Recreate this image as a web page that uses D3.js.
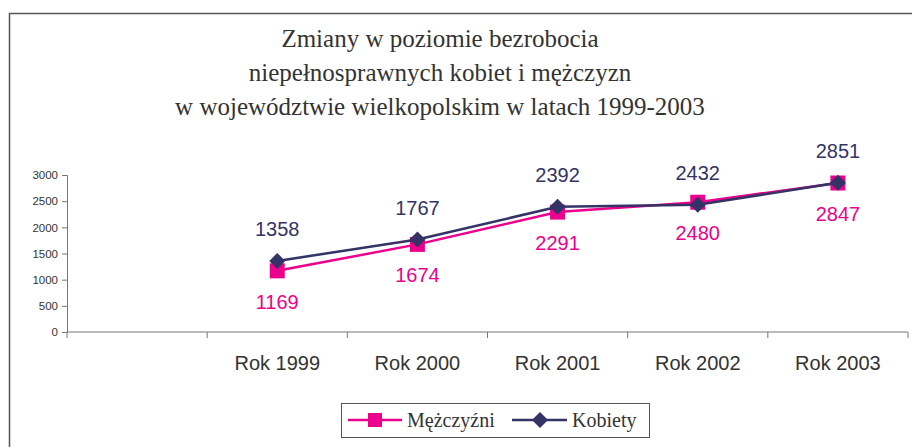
<!DOCTYPE html>
<html lang="pl">
<head>
<meta charset="utf-8">
<title>Bezrobocie niepełnosprawnych</title>
<script src="https://d3js.org/d3.v7.min.js"></script>
<style>
  body { margin: 0; background: #fff; }
</style>
</head>
<body>
<div id="chart"></div>
<script>

// data
var categories = ["", "Rok 1999", "Rok 2000", "Rok 2001", "Rok 2002", "Rok 2003"];
var years = ["Rok 1999", "Rok 2000", "Rok 2001", "Rok 2002", "Rok 2003"];
var mezczyzni = [1169, 1674, 2291, 2480, 2847];
var kobiety = [1358, 1767, 2392, 2432, 2851];
var yTicks = [0, 500, 1000, 1500, 2000, 2500, 3000];
var titleLines = ["Zmiany w poziomie bezrobocia",
                  "niepełnosprawnych kobiet i mężczyzn",
                  "w województwie wielkopolskim w latach 1999-2003"];

var W = 912, H = 447;
var pink = "#ec008c", navy = "#333366";

var svg = d3.select("#chart").append("svg")
    .attr("width", W)
    .attr("height", H);

// outer frame (runs off the right and bottom edge)
svg.append("rect")
    .attr("x", 9.5).attr("y", 13.5)
    .attr("width", W + 20).attr("height", H + 20)
    .attr("fill", "none")
    .attr("stroke", "#555")
    .attr("stroke-width", 1.5);

// title
svg.append("g").selectAll("text")
  .data(titleLines)
  .enter().append("text")
    .attr("x", 440)
    .attr("y", function(d, i) { return 47 + i * 34; })
    .attr("text-anchor", "middle")
    .style("font-family", "'Liberation Serif', 'Times New Roman', serif")
    .style("font-size", "25px")
    .attr("fill", "#333")
    .text(function(d) { return d; });

// scales
var x = d3.scaleBand().domain(categories).range([67, 908]);
var y = d3.scaleLinear().domain([0, 3000]).range([332, 175]);

// y axis
var yAxis = svg.append("g")
    .attr("transform", "translate(67,0)")
    .call(d3.axisLeft(y).tickValues(yTicks).tickFormat(d3.format("d")).tickSize(5).tickPadding(4));
yAxis.selectAll("path, line").attr("stroke", "#777");
yAxis.selectAll("text")
    .style("font-family", "'Liberation Sans', Arial, sans-serif")
    .style("font-size", "11.5px")
    .attr("fill", "#333");

// x axis: ticks at band edges
var xg = svg.append("g");
xg.append("line")
    .attr("x1", 67).attr("x2", 908)
    .attr("y1", 332).attr("y2", 332)
    .attr("stroke", "#777");
var edges = categories.map(function(c) { return x(c); }).concat([x.range()[1]]);
xg.selectAll(".tk")
  .data(edges)
  .enter().append("line")
    .attr("x1", function(d) { return d; }).attr("x2", function(d) { return d; })
    .attr("y1", 332).attr("y2", 338)
    .attr("stroke", "#777");
xg.selectAll(".lbl")
  .data(categories)
  .enter().append("text")
    .attr("x", function(d) { return x(d) + x.bandwidth() / 2; })
    .attr("y", 370)
    .attr("text-anchor", "middle")
    .style("font-family", "'Liberation Sans', Arial, sans-serif")
    .style("font-size", "20px")
    .attr("fill", "#333")
    .text(function(d) { return d; });

var cx = function(d, i) { return x(years[i]) + x.bandwidth() / 2; };

var line = d3.line()
    .x(function(d, i) { return cx(d, i); })
    .y(function(d) { return y(d); });

// Mężczyźni
svg.append("path")
    .datum(mezczyzni)
    .attr("d", line)
    .attr("fill", "none")
    .attr("stroke", pink)
    .attr("stroke-width", 2.5);
svg.append("g").selectAll("rect")
  .data(mezczyzni)
  .enter().append("rect")
    .attr("x", function(d, i) { return cx(d, i) - 7.5; })
    .attr("y", function(d) { return y(d) - 7.5; })
    .attr("width", 15).attr("height", 15)
    .attr("fill", pink);

// Kobiety
svg.append("path")
    .datum(kobiety)
    .attr("d", line)
    .attr("fill", "none")
    .attr("stroke", navy)
    .attr("stroke-width", 2.5);
var diamond = "M0,-8L8,0L0,8L-8,0Z";
svg.append("g").selectAll("path")
  .data(kobiety)
  .enter().append("path")
    .attr("d", diamond)
    .attr("transform", function(d, i) { return "translate(" + cx(d, i) + "," + y(d) + ")"; })
    .attr("fill", navy);

// data labels
svg.append("g").selectAll("text")
  .data(kobiety)
  .enter().append("text")
    .attr("x", function(d, i) { return cx(d, i); })
    .attr("y", function(d) { return y(d) - 25; })
    .attr("text-anchor", "middle")
    .style("font-family", "'Liberation Sans', Arial, sans-serif")
    .style("font-size", "20px")
    .attr("fill", navy)
    .text(function(d) { return d; });
svg.append("g").selectAll("text")
  .data(mezczyzni)
  .enter().append("text")
    .attr("x", function(d, i) { return cx(d, i); })
    .attr("y", function(d) { return y(d) + 38; })
    .attr("text-anchor", "middle")
    .style("font-family", "'Liberation Sans', Arial, sans-serif")
    .style("font-size", "20px")
    .attr("fill", pink)
    .text(function(d) { return d; });

// legend
var lg = svg.append("g");
lg.append("rect")
    .attr("x", 341.5).attr("y", 403.5)
    .attr("width", 308).attr("height", 34)
    .attr("fill", "#fff")
    .attr("stroke", "#555");
lg.append("line")
    .attr("x1", 348).attr("x2", 402).attr("y1", 420).attr("y2", 420)
    .attr("stroke", pink).attr("stroke-width", 2.5);
lg.append("rect")
    .attr("x", 368).attr("y", 413).attr("width", 14).attr("height", 14)
    .attr("fill", pink);
lg.append("text")
    .attr("x", 407).attr("y", 427)
    .style("font-family", "'Liberation Serif', 'Times New Roman', serif")
    .style("font-size", "20px")
    .attr("fill", "#333")
    .text("Mężczyźni");
lg.append("line")
    .attr("x1", 512).attr("x2", 567).attr("y1", 420).attr("y2", 420)
    .attr("stroke", navy).attr("stroke-width", 2.5);
lg.append("path")
    .attr("d", diamond)
    .attr("transform", "translate(540,420)")
    .attr("fill", navy);
lg.append("text")
    .attr("x", 572).attr("y", 427)
    .style("font-family", "'Liberation Serif', 'Times New Roman', serif")
    .style("font-size", "20px")
    .attr("fill", "#333")
    .text("Kobiety");

</script>
</body>
</html>
